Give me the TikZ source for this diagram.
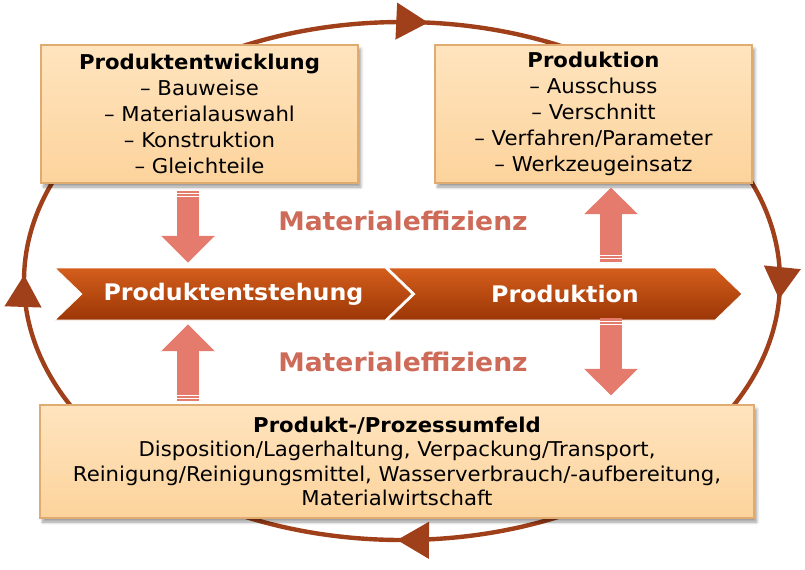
\documentclass[tikz,border=0pt]{standalone}
\usepackage{fontspec}
\setmainfont{DejaVu Sans}[FakeStretch=1.04]
\usetikzlibrary{shapes.symbols,shadows.blur,arrows.meta,decorations.markings,calc}

\definecolor{boxpeach}{HTML}{FCD39C}
\definecolor{boxtop}{HTML}{FFE4BE}
\definecolor{boxedge}{HTML}{E0AB70}
\definecolor{rust}{HTML}{C24A10}
\definecolor{rusttop}{HTML}{D45E1C}
\definecolor{rustbot}{HTML}{9C3606}
\definecolor{salmon}{HTML}{E57B6C}
\definecolor{effred}{HTML}{CD6A58}
\definecolor{ringbrown}{HTML}{A0401A}

\tikzset{
  infobox/.style={rectangle,draw=boxedge,line width=0.8pt,top color=boxtop,bottom color=boxpeach,
    align=center,text=black,inner sep=0pt,font=\fontsize{15.3}{19.5}\selectfont,
    blur shadow={shadow xshift=2pt,shadow yshift=-3pt,shadow blur steps=6}},
  chevron/.style={signal,signal to=east,signal from=west,signal pointer angle=88,
    minimum height=39pt,inner sep=0pt,draw=white,line width=0.6pt,
    top color=rusttop,middle color=rust,bottom color=rustbot,
    text=white,font=\bfseries\fontsize{17.1}{20}\selectfont},
  fatarrow/.style={salmon,line width=16.5pt,-{Triangle[length=20pt,width=39pt]}},
  stripe/.style={white,line width=0.8pt},
  effizienz/.style={text=effred,font=\bfseries\fontsize{19.2}{22}\selectfont},
  ring/.style={ringbrown,line width=3.3pt,postaction=decorate,decoration={markings,
    mark=at position 0.009 with {\arrow{Triangle[length=24pt,width=27pt]}},
    mark=at position 0.2525 with {\arrow{Triangle[length=24pt,width=27pt]}},
    mark=at position 0.503 with {\arrow{Triangle[length=24pt,width=27pt]}},
    mark=at position 0.763 with {\arrow{Triangle[length=24pt,width=27pt]}}}}
}

\begin{document}
\begin{tikzpicture}[x=0.75pt,y=-0.75pt]
  \useasboundingbox (0,0) rectangle (805,569);

  % Kreislauf
  \draw[ring] (402,281) ellipse [x radius=378,y radius=259];

  % Kaesten
  \node[infobox,minimum width=237.75pt,minimum height=103.5pt] (entw) at (199.5,114)
    {\textbf{Produktentwicklung}\\– Bauweise\\– Materialauswahl\\– Konstruktion\\– Gleichteile};
  \node[infobox,minimum width=237.75pt,minimum height=103.5pt] (prod) at (593.5,114)
    {\textbf{Produktion}\\– Ausschuss\\– Verschnitt\\– Verfahren/Parameter\\– Werkzeugeinsatz};
  \node[infobox,minimum width=535.5pt,minimum height=84.75pt,font=\fontsize{15.3}{18.4}\selectfont] (umfeld) at (397,461.5)
    {\textbf{Produkt-/Prozessumfeld}\\Disposition/Lagerhaltung, Verpackung/Transport,\\
     Reinigung/Reinigungsmittel, Wasserverbrauch/-aufbereitung,\\Materialwirtschaft};

  % Prozesskette
  \node[chevron,minimum width=267.75pt] (entst) at (233.5,294) {Produktentstehung};
  \node[chevron,minimum width=265.5pt] (ablauf) at (565,294) {Produktion};

  \node[effizienz] (eff1) at (403,221) {Materialeffizienz};
  \node[effizienz] (eff2) at (403,362) {Materialeffizienz};

  % Blockpfeile
  \draw[fatarrow] ($(entw.south)+(-11.5,7)$) -- ($(entst.north)+(-45.5,-5)$);
  \draw[fatarrow] ($(umfeld.north)+(-209,-3)$) -- ($(entst.south)+(-45.5,4)$);
  \draw[fatarrow] ($(ablauf.north)+(46,-6)$) -- ($(prod.south)+(17.5,4)$);
  \draw[fatarrow] ($(ablauf.south)+(46,-2)$) -- ($(umfeld.north)+(214,-9)$);

  \foreach \d in {3,6} {
    \draw[stripe] ($(entw.south)+(-22.5,7+\d)$) -- ++(22,0);
    \draw[stripe] ($(umfeld.north)+(-220,-3-\d)$) -- ++(22,0);
    \draw[stripe] ($(ablauf.north)+(35,-6-\d)$) -- ++(22,0);
    \draw[stripe] ($(ablauf.south)+(35,-2+\d)$) -- ++(22,0);
  }
\end{tikzpicture}
\end{document}
